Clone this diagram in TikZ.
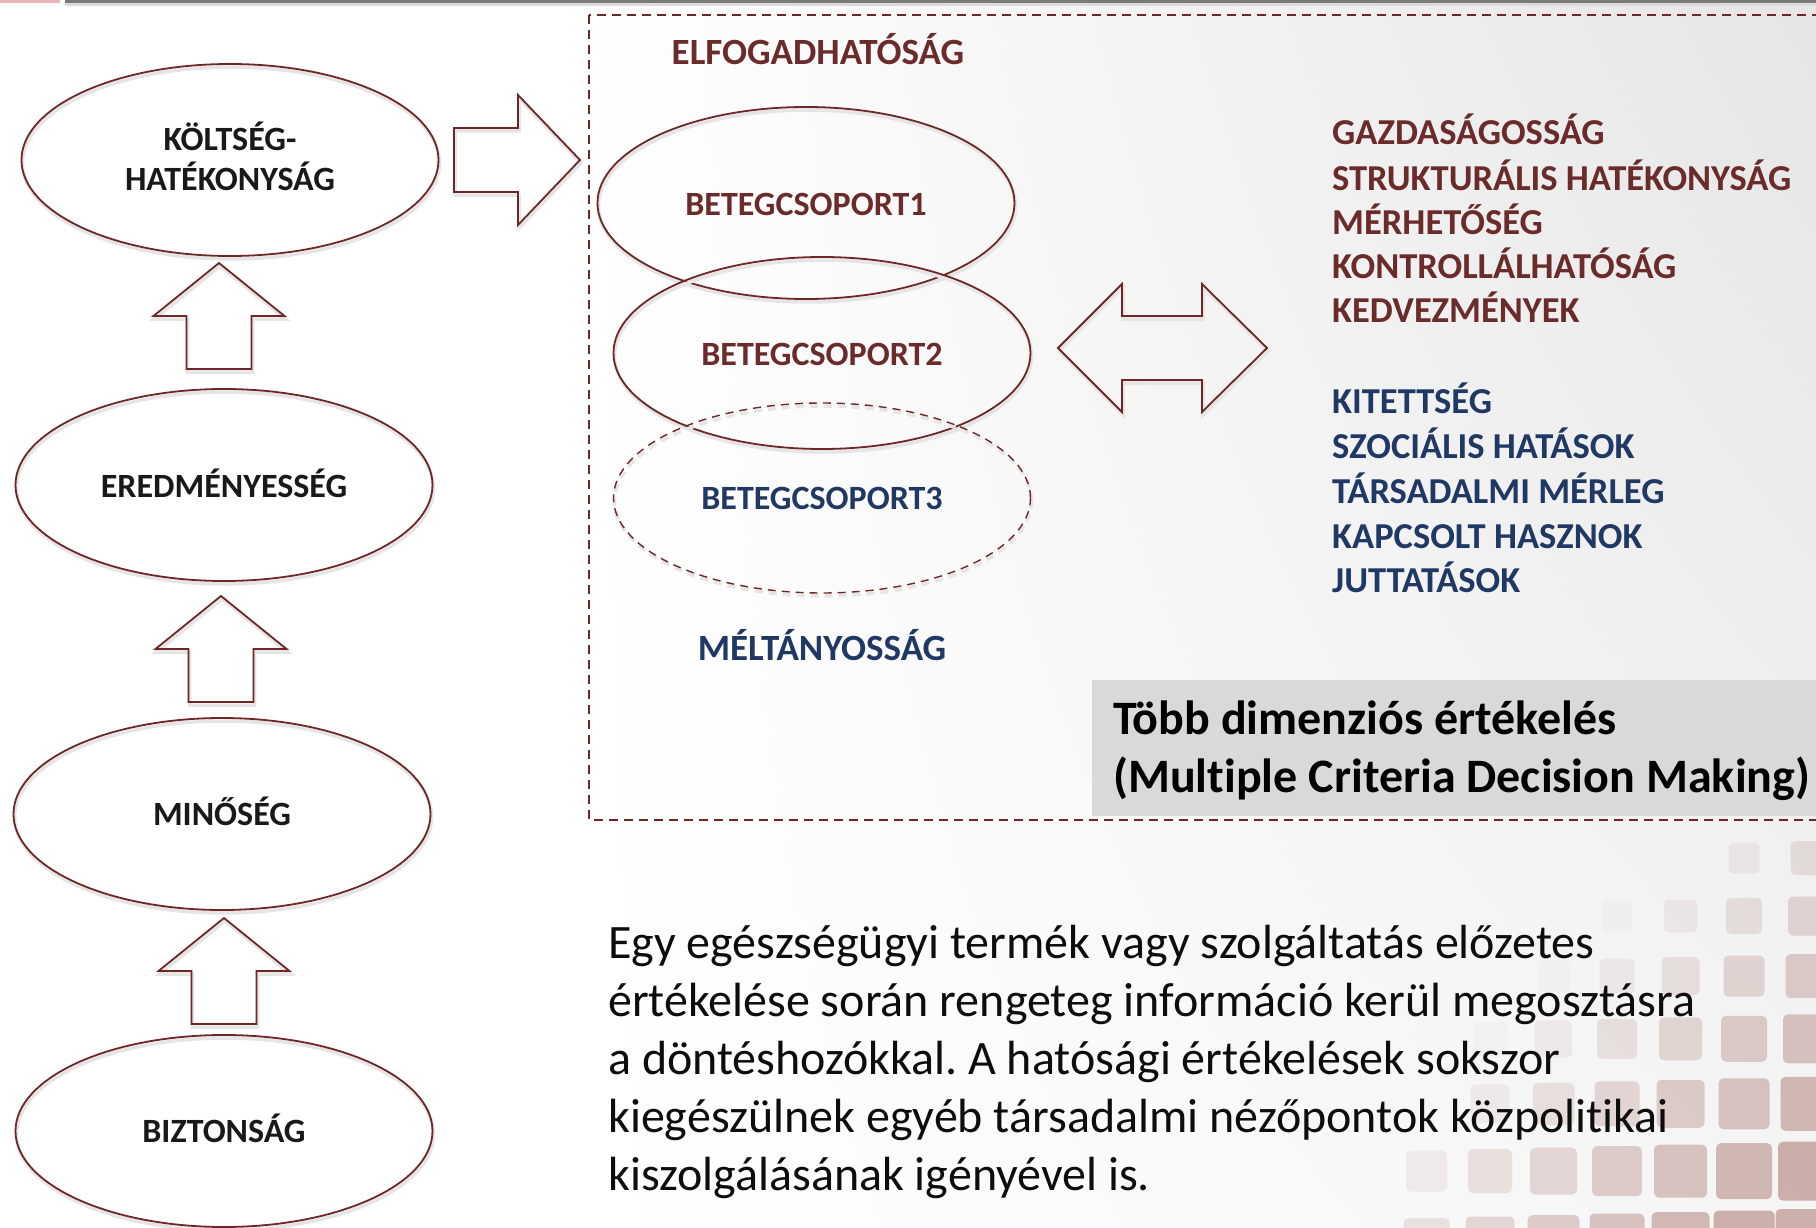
\documentclass[tikz,border=0pt]{standalone}
\usepackage{fontspec}
\setmainfont{Carlito}[Ligatures=NoCommon]
\usepackage{pdfrender}
\usetikzlibrary{calc,shapes.geometric,shadings}
\frenchspacing

\definecolor{lineC}{HTML}{6E2626}
\definecolor{maroonT}{HTML}{6B2B2B}
\definecolor{navyT}{HTML}{1F3864}
\definecolor{boxC}{HTML}{D9D9D9}
\definecolor{tileC}{HTML}{A06A60}
\definecolor{barC}{HTML}{7A7A7A}
\definecolor{pinkC}{HTML}{E8B4B4}
\definecolor{haloC}{HTML}{8E8E8E}
\definecolor{shadeC}{HTML}{A8A8A8}

% outlined lettering: fill in the text colour, grey rim around it
\newcommand\halo[1]{\textpdfrender{TextRenderingMode=FillStroke,LineWidth=1.3pt,StrokeColor=haloC}{#1}}
\newcommand\softrim[1]{\textpdfrender{TextRenderingMode=FillStroke,LineWidth=1.6pt,StrokeColor=shadeC}{#1}}

\begin{document}
\begin{tikzpicture}[x=1pt,y=-1pt,
  outline/.style={draw=lineC, line width=1.8pt, line join=miter,
    preaction={draw=black!10, line width=3.5pt, transform canvas={xshift=1pt, yshift=-3pt}}},
  oval/.style={outline, ellipse, minimum width=417pt, minimum height=192pt, inner sep=0pt},
  dashline/.style={draw=lineC, line width=1.4pt, dash pattern=on 9pt off 6pt},
  ovaltext/.style={font=\fontsize{34}{40}\selectfont\bfseries, anchor=base, inner sep=0pt},
  listtext/.style={font=\fontsize{36.5}{44}\selectfont\bfseries, anchor=base west, inner sep=0pt},
  headtext/.style={font=\fontsize{37}{44}\selectfont\bfseries, anchor=base, inner sep=0pt},
  paratext/.style={font=\fontsize{48}{57}\selectfont, anchor=base west, inner sep=0pt, text=black!95},
  boxtext/.style={font=\fontsize{48}{57}\selectfont\bfseries, anchor=base west, inner sep=0pt, text=black},
  uparrowpic/.pic={\draw[outline] (0,0) -- (65.5,53) -- (32.5,53) -- (32.5,106)
      -- (-32.5,106) -- (-32.5,53) -- (-65.5,53) -- cycle;},
  rightarrowpic/.pic={\draw[outline] (0,0) -- (-62,-65) -- (-62,-32) -- (-126,-32)
      -- (-126,32) -- (-62,32) -- (-62,65) -- cycle;},
  bothwayspic/.pic={\draw[outline] (-104,0) -- (-40,-64) -- (-40,-32) -- (40,-32)
      -- (40,-64) -- (105,0) -- (40,64) -- (40,32) -- (-40,32) -- (-40,64) -- cycle;}
]
\useasboundingbox (0,0) rectangle (1816,1228);
\clip (0,0) rectangle (1816,1228);

% slide background
\fill[white] (0,0) rectangle (1816,1228);
\shade[upper left=white, lower left=white, upper right=black!10, lower right=black!4]
  (580,0) rectangle (1816,1228);

% top bar
\fill[pinkC] (0,0) rectangle (60,3);
\fill[barC] (65,0) rectangle (1816,3);
\fill[black!14] (65,3) rectangle (1816,6);

% decorative tiles, lower right
\foreach \c/\r in {4/-1,5/-1,
                   2/0,3/0,4/0,5/0,
                   1/1,2/1,3/1,4/1,5/1,
                   0/2,1/2,2/2,3/2,4/2,5/2,
                   0/3,1/3,2/3,3/3,4/3,5/3,
                   -1/4,0/4,1/4,2/4,3/4,4/4,5/4,
                   -1/5,0/5,1/5,2/5,3/5,4/5,5/5}{
  \pgfmathsetmacro\w{24+3*\c+5*\r}
  \pgfmathsetmacro\cx{1490+63.5*\c}
  \pgfmathsetmacro\cy{916+59*\r+1.2*\r*\r}
  \pgfmathsetmacro\op{max(0.04,min(0.5,0.07*(\c+\r)-0.12))}
  \fill[tileC, opacity=\op, rounded corners=5pt]
    (\cx-\w/2,\cy-\w/2) rectangle (\cx+\w/2,\cy+\w/2);
}

% frame of the multi-criteria panel
\draw[dashline] (589,15) rectangle (1840,820);

% summary box
\node[fill=boxC, anchor=north west, inner sep=0pt, minimum width=740pt, minimum height=136pt]
  (mcdm) at (1092,680) {};
\node[boxtext] (mcdm1) at (1113,734) {Több dimenziós értékelés};
\node[boxtext] (mcdm2) at (1113,792) {(Multiple Criteria Decision Making)};

% left column: hierarchy of criteria
\node[oval] (K) at (230,160) {};
\node[ovaltext, text=black!90] (tK1) at (230,150) {\softrim{KÖLTSÉG-}};
\node[ovaltext, text=black!90] (tK2) at (230,190) {\softrim{HATÉKONYSÁG}};

\node[oval] (E) at (224,485) {};
\node[ovaltext, text=black!90] (tE) at ($(E.center)+(0,12)$) {\softrim{EREDMÉNYESSÉG}};

\node[oval] (M) at (222,814) {};
\node[ovaltext, text=black!90] (tM) at ($(M.center)+(0,11)$) {\softrim{MINŐSÉG}};

\node[oval] (S) at (224,1131) {};
\node[ovaltext, text=black!90] (tS) at ($(S.center)+(0,11)$) {\softrim{BIZTONSÁG}};

\pic (up1) at (219,263) {uparrowpic};
\pic (up2) at (221,596) {uparrowpic};
\pic (up3) at (224,918) {uparrowpic};
\pic (toR) at (580,160) {rightarrowpic};

% patient groups
\node[headtext, text=maroonT] (acc) at (818,65) {\halo{ELFOGADHATÓSÁG}};

\node[oval] (G1) at (806,203) {};
\node[ovaltext, text=maroonT] (tG1) at ($(G1.center)+(0,12)$) {\halo{BETEGCSOPORT1}};

\node[oval] (G2) at (822,353) {};
\node[ovaltext, text=maroonT] (tG2) at ($(G2.center)+(0,12)$) {\halo{BETEGCSOPORT2}};

\node[oval, dashline, minimum height=190pt, dash pattern=on 8pt off 6pt] (G3) at (822,498) {};
\node[ovaltext, text=navyT] (tG3) at ($(G3.center)+(0,11)$) {\halo{BETEGCSOPORT3}};

\node[headtext, text=navyT] (eq) at (822,660) {\halo{MÉLTÁNYOSSÁG}};

\pic (both) at (1162,348) {bothwayspic};

% criteria lists
\node[listtext, text=maroonT] (c1) at (1332,145) {\halo{GAZDASÁGOSSÁG}};
\node[listtext, text=maroonT] (c2) at (1332,190) {\halo{STRUKTURÁLIS HATÉKONYSÁG}};
\node[listtext, text=maroonT] (c3) at (1332,234) {\halo{MÉRHETŐSÉG}};
\node[listtext, text=maroonT] (c4) at (1332,278) {\halo{KONTROLLÁLHATÓSÁG}};
\node[listtext, text=maroonT] (c5) at (1332,322) {\halo{KEDVEZMÉNYEK}};

\node[listtext, text=navyT] (s1) at (1332,413) {\halo{KITETTSÉG}};
\node[listtext, text=navyT] (s2) at (1332,458) {\halo{SZOCIÁLIS HATÁSOK}};
\node[listtext, text=navyT] (s3) at (1332,503) {\halo{TÁRSADALMI MÉRLEG}};
\node[listtext, text=navyT] (s4) at (1332,548) {\halo{KAPCSOLT HASZNOK}};
\node[listtext, text=navyT] (s5) at (1332,592) {\halo{JUTTATÁSOK}};

% explanatory paragraph
\node[paratext] (p1) at (608,958)  {Egy egészségügyi termék vagy szolgáltatás előzetes};
\node[paratext] (p2) at (608,1016) {értékelése során rengeteg információ kerül megosztásra};
\node[paratext] (p3) at (608,1074) {a döntéshozókkal. A hatósági értékelések sokszor};
\node[paratext] (p4) at (608,1132) {kiegészülnek egyéb társadalmi nézőpontok közpolitikai};
\node[paratext] (p5) at (608,1190) {kiszolgálásának igényével is.};
\end{tikzpicture}
\end{document}
